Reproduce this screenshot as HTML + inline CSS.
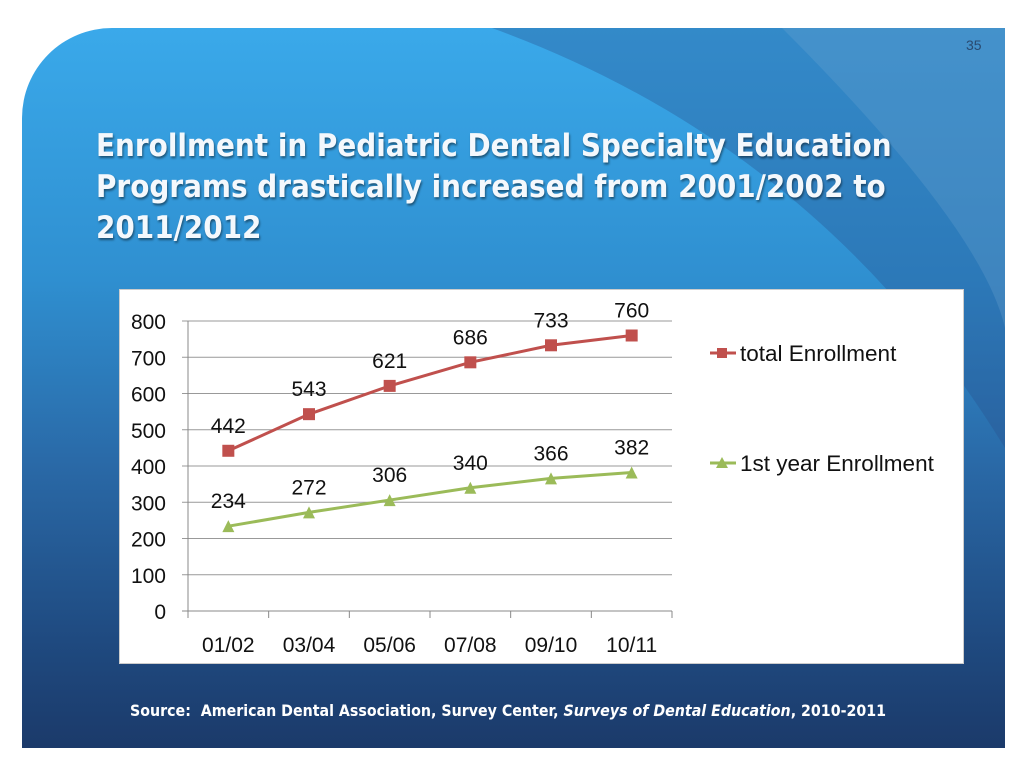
<!DOCTYPE html>
<html><head><meta charset="utf-8"><style>
body{margin:0;width:1024px;height:768px;background:#fff;position:relative;overflow:hidden;font-family:"DejaVu Sans Condensed","DejaVu Sans","Liberation Sans",sans-serif}
#slide{position:absolute;left:22px;top:28px;width:983px;height:720px;border-top-left-radius:90px;overflow:hidden;background:linear-gradient(180deg,#3aa9ea 0%,#2f8fd0 35%,#2a6aa8 60%,#1f4a80 85%,#1b3a6a 100%)}
#title{position:absolute;left:96px;top:126px;color:#f4f8fc;font-size:31px;font-weight:bold;line-height:41px;text-shadow:1px 2px 2px rgba(0,0,0,.45);white-space:nowrap}
#num{position:absolute;left:966px;top:37px;color:#2a4a70;font-size:14px;font-family:"Liberation Sans",sans-serif}
#chart{position:absolute;left:119px;top:289px;width:843px;height:373px;background:#fff;border:1px solid #ccc}
#src{position:absolute;left:130px;top:701px;color:#fff;font-size:15.8px;font-weight:bold;white-space:nowrap}
</style></head><body>
<div id="slide">
<svg width="983" height="720" style="position:absolute;left:0;top:0">
<path d="M470 0 Q800 120 983 420 L983 0Z" fill="rgba(40,80,140,0.35)"/>
<path d="M760 0 Q960 200 983 300 L983 0Z" fill="rgba(120,170,210,0.25)"/>
</svg>
</div>
<div id="num">35</div>
<div id="title">Enrollment in Pediatric Dental Specialty Education<br>Programs drastically increased from 2001/2002 to<br>2011/2012</div>
<div id="chart"></div>
<svg id="plot" width="1024" height="768" style="position:absolute;left:0;top:0"></svg>
<div id="src">Source:&nbsp; American Dental Association, Survey Center, <i>Surveys of Dental Education</i>, 2010-2011</div>
<script>
const categories=["01/02","03/04","05/06","07/08","09/10","10/11"];
const totalEnrollment=[442,543,621,686,733,760];
const firstYearEnrollment=[234,272,306,340,366,382];
const yTicks=[0,100,200,300,400,500,600,700,800];
const svg=document.getElementById('plot');const NS='http://www.w3.org/2000/svg';
const x0=188,x1=672,y0=611,y1=321;
const xs=i=>x0+(i+0.5)*(x1-x0)/categories.length;
const ys=v=>y0-(v/800)*(y0-y1);
function mk(t,a,txt){const e=document.createElementNS(NS,t);for(const k in a)e.setAttribute(k,a[k]);if(txt!==undefined)e.textContent=txt;svg.appendChild(e);return e;}
const F='"Liberation Sans",sans-serif';
yTicks.forEach(v=>{const g=mk('line',{x1:x0-6,x2:x1,y1:ys(v),y2:ys(v),stroke:v?'#999':'#888','stroke-width':1});


const t=mk('text',{x:166,y:ys(v)+8,'text-anchor':'end','font-size':21,'font-family':F,fill:'#111'},String(v));

});
const ax=mk('line',{x1:x0,x2:x0,y1:y1,y2:y0+6,stroke:'#888'});


for(let i=0;i<=categories.length;i++){const xx=x0+i*(x1-x0)/categories.length;const l=mk('line',{x1:xx,x2:xx,y1:y0,y2:y0+7,stroke:'#888'});

}
categories.forEach((c,i)=>{const t=mk('text',{x:xs(i),y:652,'text-anchor':'middle','font-size':21,'font-family':F,fill:'#111'},c);

});
function series(vals,color,name,marker){
const p=mk('polyline',{points:vals.map((v,i)=>xs(i)+','+ys(v)).join(' '),fill:'none',stroke:color,'stroke-width':3});


vals.forEach((v,i)=>{let m;if(marker==='sq')m=mk('rect',{x:xs(i)-6,y:ys(v)-6,width:12,height:12,fill:color});
else m=mk('polygon',{points:`${xs(i)-6},${ys(v)+6} ${xs(i)+6},${ys(v)+6} ${xs(i)},${ys(v)-6}`,fill:color});


const t=mk('text',{x:xs(i),y:ys(v)-18,'text-anchor':'middle','font-size':21,'font-family':F,fill:'#111'},String(v));

});}
series(totalEnrollment,'#c0504d','total-enrollment','sq');
series(firstYearEnrollment,'#9bbb59','first-year-enrollment','tri');
function legend(y,color,label,marker,nm){const l=mk('line',{x1:710,x2:736,y1:y,y2:y,stroke:color,'stroke-width':3});


let m;if(marker==='sq')m=mk('rect',{x:717,y:y-5,width:10,height:10,fill:color});else m=mk('polygon',{points:`716,${y+5} 728,${y+5} 722,${y-6}`,fill:color});


const t=mk('text',{x:740,y:y+8,'font-size':22.5,'font-family':F,fill:'#111'},label);

}
legend(353,'#c0504d','total Enrollment','sq','legend-total');
legend(463,'#9bbb59','1st year Enrollment','tri','legend-first-year');
</script>
</body></html>
